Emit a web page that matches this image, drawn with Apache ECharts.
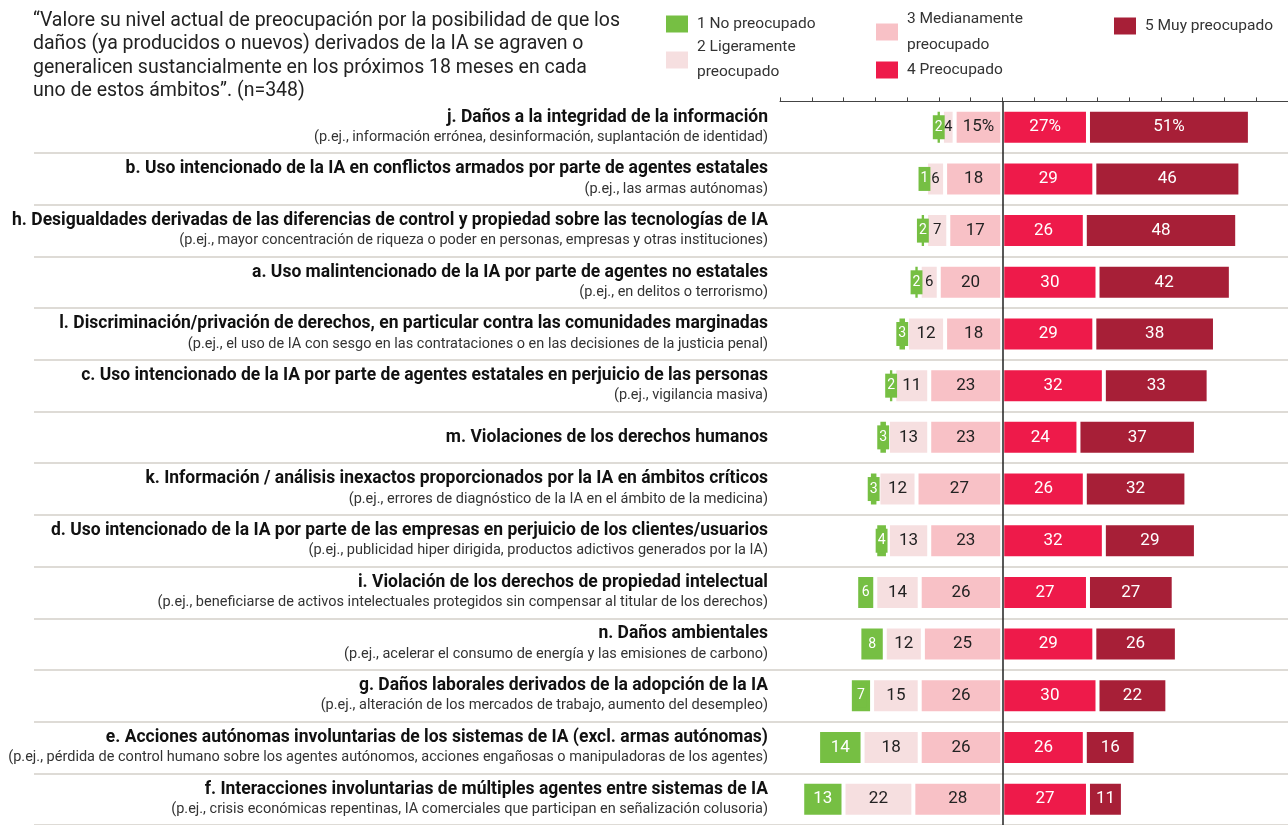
<!DOCTYPE html>
<html>
<head>
<meta charset="utf-8">
<script src="https://cdn.jsdelivr.net/npm/echarts@6/dist/echarts.min.js"></script>
<style>
  html, body { margin: 0; padding: 0; background: #fff; }
  #chart { width: 1288px; height: 825px; }
</style>
</head>
<body>
<div id="chart"></div>
<script>
// categorias (de arriba a abajo)
var categories = ['j', 'b', 'h', 'a', 'l', 'c', 'm', 'k', 'd', 'i', 'n', 'g', 'e', 'f'];
var titles = [
  'j. Daños a la integridad de la información',
  'b. Uso intencionado de la IA en conflictos armados por parte de agentes estatales',
  'h. Desigualdades derivadas de las diferencias de control y propiedad sobre las tecnologías de IA',
  'a. Uso malintencionado de la IA por parte de agentes no estatales',
  'l. Discriminación/privación de derechos, en particular contra las comunidades marginadas',
  'c. Uso intencionado de la IA por parte de agentes estatales en perjuicio de las personas',
  'm. Violaciones de los derechos humanos',
  'k. Información / análisis inexactos proporcionados por la IA en ámbitos críticos',
  'd. Uso intencionado de la IA por parte de las empresas en perjuicio de los clientes/usuarios',
  'i. Violación de los derechos de propiedad intelectual',
  'n. Daños ambientales',
  'g. Daños laborales derivados de la adopción de la IA',
  'e. Acciones autónomas involuntarias de los sistemas de IA (excl. armas autónomas)',
  'f. Interacciones involuntarias de múltiples agentes entre sistemas de IA'
];
var subtitles = [
  '(p.ej., información errónea, desinformación, suplantación de identidad)',
  '(p.ej., las armas autónomas)',
  '(p.ej., mayor concentración de riqueza o poder en personas, empresas y otras instituciones)',
  '(p.ej., en delitos o terrorismo)',
  '(p.ej., el uso de IA con sesgo en las contrataciones o en las decisiones de la justicia penal)',
  '(p.ej., vigilancia masiva)',
  '',
  '(p.ej., errores de diagnóstico de la IA en el ámbito de la medicina)',
  '(p.ej., publicidad hiper dirigida, productos adictivos generados por la IA)',
  '(p.ej., beneficiarse de activos intelectuales protegidos sin compensar al titular de los derechos)',
  '(p.ej., acelerar el consumo de energía y las emisiones de carbono)',
  '(p.ej., alteración de los mercados de trabajo, aumento del desempleo)',
  '(p.ej., pérdida de control humano sobre los agentes autónomos, acciones engañosas o manipuladoras de los agentes)',
  '(p.ej., crisis económicas repentinas, IA comerciales que participan en señalización colusoria)'
];

// porcentajes
var noPreocupado   = [2, 1, 2, 2, 3, 2, 3, 3, 4, 6, 8, 7, 14, 13];
var ligeramente    = [4, 6, 7, 6, 12, 11, 13, 12, 13, 14, 12, 15, 18, 22];
var medianamente   = [15, 18, 17, 20, 18, 23, 23, 27, 23, 26, 25, 26, 26, 28];
var preocupado     = [27, 29, 26, 30, 29, 32, 24, 26, 32, 27, 29, 30, 26, 27];
var muyPreocupado  = [51, 46, 48, 42, 38, 33, 37, 32, 29, 27, 26, 22, 16, 11];

var C_NO = '#76bf43', C_LIG = '#f6dfe0', C_MED = '#f8c1c6', C_PRE = '#ee1a4a', C_MUY = '#a71f37';
var FONT = 'Roboto';

var chart = echarts.init(document.getElementById('chart'));

function barSeries(name, values, color, sign, textColor, isGreen) {
  return {
    name: name,
    type: 'bar',
    stack: 'total',
    xAxisIndex: 1,
    yAxisIndex: 1,
    barWidth: 35,
    itemStyle: { color: color, borderColor: '#fff', borderWidth: 2 },
    label: {
      show: true,
      position: 'inside',
      color: textColor,
      fontFamily: FONT,
      fontSize: 17,
      formatter: function (p) {
        var v = Math.abs(p.value);
        // solo la primera fila lleva el simbolo %
        return (p.dataIndex === 0 && v >= 10) ? v + '%' : String(v);
      }
    },
    data: values.map(function (v) {
      var item = { value: sign * v };
      if (isGreen && v < 10) {
        item.label = { fontSize: 14, backgroundColor: color, padding: [5, 2] };
      } else if (v < 10) {
        item.label = { fontSize: 15 };
      }
      return item;
    })
  };
}

function oneLegend(name, text, left, top, lineHeight) {
  return {
    data: [{ name: name, icon: 'rect' }],
    left: left,
    top: top,
    padding: 0,
    itemWidth: 22,
    itemHeight: 17,
    itemStyle: { borderWidth: 0 },
    selectedMode: false,
    formatter: function () { return text; },
    textStyle: { fontFamily: FONT, fontSize: 15.5, color: '#333', lineHeight: lineHeight, padding: [0, 0, 0, 4] }
  };
}

var series = [
  barSeries('3 Medianamente preocupado', medianamente, C_MED, -1, '#222', false),
  barSeries('2 Ligeramente preocupado', ligeramente, C_LIG, -1, '#222', false),
  barSeries('1 No preocupado', noPreocupado, C_NO, -1, '#fff', true),
  barSeries('4 Preocupado', preocupado, C_PRE, 1, '#fff', false),
  barSeries('5 Muy preocupado', muyPreocupado, C_MUY, 1, '#fff', false)
];
// linea central en 0
series[3].markLine = {
  silent: true,
  symbol: 'none',
  label: { show: false },
  lineStyle: { color: '#222', width: 1.5, type: 'solid' },
  data: [{ xAxis: 0 }]
};

var gridTop = 101.4, gridHeight = 730.7;
var sepLine = { show: true, interval: function (idx) { return idx !== 0; }, lineStyle: { color: '#d3cfc9', width: 1.5 } };

var option = {
  animation: false,
  backgroundColor: '#fff',
  title: {
    text: '“Valore su nivel actual de preocupación por la posibilidad de que los\n' +
          'daños (ya producidos o nuevos) derivados de la IA se agraven o\n' +
          'generalicen sustancialmente en los próximos 18 meses en cada\n' +
          'uno de estos ámbitos”. (n=348)',
    left: 33,
    top: 9,
    padding: 0,
    textStyle: { fontFamily: FONT, fontSize: 19.5, fontWeight: 'normal', color: '#222', lineHeight: 23.5 }
  },
  legend: [
    oneLegend('1 No preocupado', '1 No preocupado', 666, 14, 20),
    oneLegend('2 Ligeramente preocupado', '2 Ligeramente\npreocupado', 666, 35, 25),
    oneLegend('3 Medianamente preocupado', '3 Medianamente\npreocupado', 876, 6, 26),
    oneLegend('4 Preocupado', '4 Preocupado', 876, 60, 20),
    oneLegend('5 Muy preocupado', '5 Muy preocupado', 1114, 16, 20)
  ],
  grid: [
    { left: 34, width: 746, top: gridTop, height: gridHeight },
    { left: 780, right: 0, top: gridTop, height: gridHeight }
  ],
  xAxis: [
    { gridIndex: 0, type: 'value', min: 0, max: 1, show: false },
    {
      gridIndex: 1, type: 'value', position: 'top',
      min: -70, max: 90, interval: 10,
      axisLine: { show: true, lineStyle: { color: '#444', width: 1 } },
      axisTick: { show: true, length: 4, lineStyle: { color: '#444' } },
      axisLabel: { show: false },
      splitLine: { show: false }
    }
  ],
  yAxis: [
    {
      gridIndex: 0, type: 'category', inverse: true, data: categories,
      axisLine: { show: false }, axisTick: { show: false }, axisLabel: { show: false },
      splitLine: sepLine
    },
    {
      gridIndex: 1, type: 'category', inverse: true, data: categories,
      axisLine: { show: false }, axisTick: { show: false },
      splitLine: sepLine,
      axisLabel: {
        interval: 0,
        margin: 12,
        formatter: function (value, idx) {
          if (!subtitles[idx]) return '{t|' + titles[idx] + '}';
          return '{t|' + titles[idx] + '}\n{s|' + subtitles[idx] + '}';
        },
        rich: {
          t: { fontFamily: FONT, fontWeight: 'bold', fontSize: 17.5, color: '#111', lineHeight: 20, align: 'right' },
          s: { fontFamily: FONT, fontSize: 14.5, color: '#333', lineHeight: 20, align: 'right' }
        }
      }
    }
  ],
  series: series
};

chart.setOption(option);
</script>
</body>
</html>
